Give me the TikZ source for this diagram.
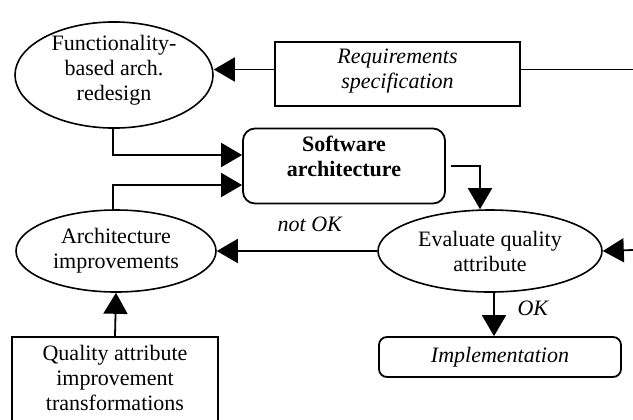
\documentclass[tikz,border=0pt]{standalone}
\usepackage{fontspec}
\setmainfont{Liberation Serif}
\usetikzlibrary{shapes.geometric,arrows.meta}
\newcommand{\lifted}[2]{\raisebox{#1}[\height][\depth]{\begin{tabular}{@{}c@{}}#2\end{tabular}}}
\tikzset{
  myellipse/.style={draw, ellipse, line width=0.8pt, align=center, inner sep=0pt},
  mybox/.style={draw, rectangle, line width=0.9pt, align=center},
  myflow/.style={line width=0.9pt, -{Triangle[length=10.5pt,width=12pt]}},
}

\begin{document}
\begin{tikzpicture}[x=0.5pt, y=-0.5pt, font=\fontsize{11}{12.5}\selectfont]
  \useasboundingbox (0,0) rectangle (633,419);

  \node[myellipse, minimum width=99pt, minimum height=53pt] (redesign) at (114,75)
    {\lifted{2.5pt}{Functionality-\\based arch.\\redesign}};

  \node[mybox, minimum width=122.5pt, minimum height=32pt] (reqspec) at (397.5,74)
    {\itshape\lifted{1.5pt}{Requirements\\specification}};

  \node[mybox, rounded corners=6pt, minimum width=101pt, minimum height=37.5pt] (swarch) at (344,166)
    {\bfseries\lifted{3.5pt}{Software\\architecture}};

  \node[myellipse, minimum width=100pt, minimum height=41pt] (improve) at (116,251)
    {Architecture\\improvements};

  \node[myellipse, minimum width=112pt, minimum height=41pt] (evaluate) at (490,251)
    {Evaluate quality\\attribute};

  \node[mybox, rounded corners=4pt, minimum width=121pt, minimum height=20pt] (implement) at (500,357)
    {\itshape Implementation};

  \node[mybox, anchor=north, minimum width=103pt, minimum height=60pt] (qabox) at (115,336) {};
  \node[align=center] (qatrans) at (115,377.5)
    {Quality attribute\\improvement\\transformations};

  \coordinate (reqin) at (633,69.5);
  \coordinate (evalin) at (633,250);

  % requirements in
  \draw[line width=0.9pt] ([yshift=2.25pt]reqspec.east) -- (reqin);
  \draw[myflow] ([yshift=2.25pt]reqspec.west) -- ([yshift=2.25pt]reqspec.west -| redesign.east);

  % into the architecture
  \draw[myflow] ([xshift=-0.5pt]redesign.south) |- ([yshift=5.5pt]swarch.west);
  \draw[myflow] ([xshift=-1.5pt]improve.north) |- ([yshift=-9.5pt]swarch.west);

  % evaluation loop
  \draw[myflow] ([xshift=2.5pt]swarch.east) -| ([xshift=-5pt]evaluate.north);
  \draw[myflow] (evalin) -- (evaluate.east);
  \draw[myflow] (evaluate.west) -- (improve.east)
    node[above=6pt, pos=0.42] (notok) {\itshape not OK};
  \draw[myflow] ([xshift=2pt]evaluate.south) -- ([xshift=2pt]evaluate.south |- implement.north)
    node[right=8pt, pos=0.36] (ok) {\itshape OK};

  \draw[myflow] (qabox.north) -- (improve.south);
\end{tikzpicture}
\end{document}
